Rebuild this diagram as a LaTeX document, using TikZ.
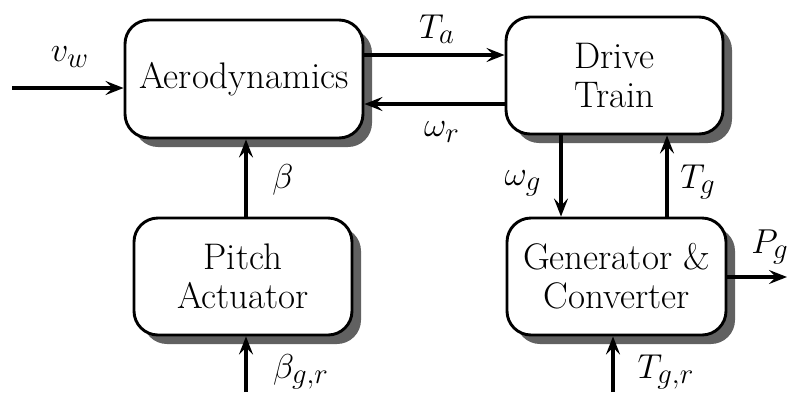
\documentclass[tikz,border=0pt]{standalone}
\usetikzlibrary{arrows.meta,shadows}
\begin{document}
\begin{tikzpicture}[x=0.5pt,y=-0.5pt,
 blk/.style={draw=black, line width=1.45pt, rounded corners=12pt, fill=white, align=center, inner sep=0pt,
   font=\fontsize{18.5}{19.5}\selectfont,
   drop shadow={shadow xshift=4.5pt, shadow yshift=-4.5pt, fill=black!62, opacity=1}},
 sig/.style={line width=1.75pt, -{Stealth[length=9pt,width=7pt,inset=3.5pt]}},
 lbl/.style={font=\fontsize{19}{20}\selectfont, inner sep=0pt}]
\useasboundingbox (0,0) rectangle (787,392);
\node[blk, minimum width=119pt, minimum height=59pt] (aero) at (244,79) {Aerodynamics};
\node[blk, minimum width=108.5pt, minimum height=58.5pt] (drive) at (614.5,75.5) {Drive\\Train};
\node[blk, minimum width=109pt, minimum height=58.5pt] (pitch) at (243,276.5) {Pitch\\Actuator};
\node[blk, minimum width=109.5pt, minimum height=58.5pt] (gen) at (616.5,276.5) {Generator \&\\Converter};
\coordinate (vin) at (12,88);
\coordinate (ya) at (0,55);
\coordinate (yr) at (0,104);
\coordinate (xb) at (246,0);
\coordinate (xwg) at (561,0);
\coordinate (xtg) at (667,0);
\coordinate (pout) at (787,277);
\coordinate (bin) at (246,392);
\coordinate (tin) at (613,392);
\draw[sig] (vin) -- (aero.west |- vin);
\draw[sig] (aero.east |- ya) -- (drive.west |- ya);
\draw[sig] (drive.west |- yr) -- (aero.east |- yr);
\draw[sig] (pitch.north -| xb) -- (aero.south -| xb);
\draw[sig] (drive.south -| xwg) -- (gen.north -| xwg);
\draw[sig] (gen.north -| xtg) -- (drive.south -| xtg);
\draw[sig] (gen.east |- pout) -- (pout);
\draw[sig] (bin) -- (pitch.south -| bin);
\draw[sig] (tin) -- (gen.south -| tin);
\node[lbl] (lvw) at (70,57) {$v_w$};
\node[lbl] (lta) at (437,29) {$T_a$};
\node[lbl] (lwr) at (442,132) {$\omega_r$};
\node[lbl] (lb) at (283,180) {$\beta$};
\node[lbl] (lwg) at (523,183) {$\omega_g$};
\node[lbl] (ltg) at (698,182) {$T_g$};
\node[lbl] (lpg) at (770,247) {$P_g$};
\node[lbl] (lbgr) at (301,372) {$\beta_{g,r}$};
\node[lbl] (ltgr) at (666,372) {$T_{g,r}$};
\end{tikzpicture}
\end{document}
